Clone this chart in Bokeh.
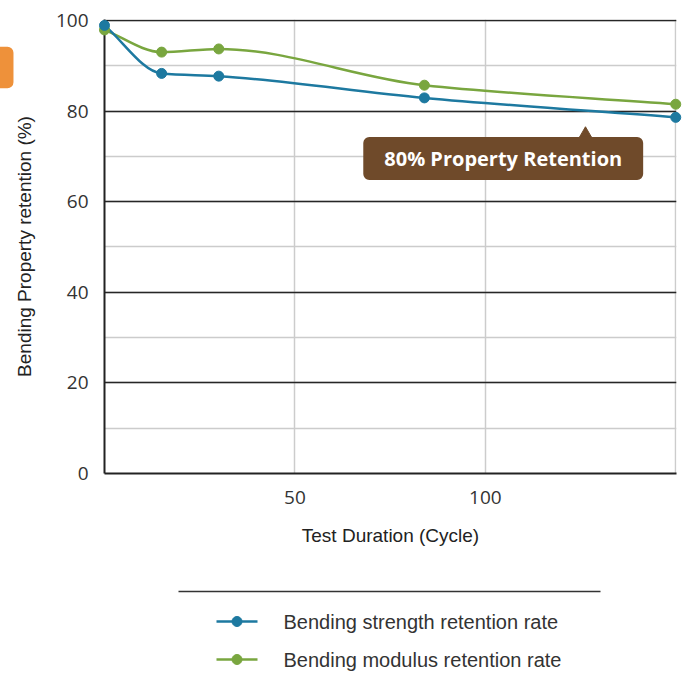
import numpy as np
from bokeh.plotting import figure
from bokeh.models import (Range1d, SingleIntervalTicker, FixedTicker, Label, ColumnDataSource)
from bokeh.layouts import column
from bokeh.embed import file_html
from bokeh.resources import INLINE
from bokeh.core.properties import value

# ---------------- data ----------------
cycles = [0, 15, 30, 84, 150]
strength = [98.9, 88.3, 87.7, 82.9, 78.6]
modulus = [97.9, 93.0, 93.7, 85.7, 81.5]
series_names = ["Bending strength retention rate", "Bending modulus retention rate"]
series_colors = ["#1d79a0", "#79a63f"]
x_tick_labels = [50, 100]
x_grid_ticks = [50, 100, 150]
y_interval = 20
annotation_text = "80% Property Retention"
annotation_pos = (104.7, 69.5)
pointer_pos = (126.3, 75.0)
tab_box = dict(left=-30.0, right=-23.9, top=94.2, bottom=85.0)

BROWN = "#6f4a2a"
ORANGE = "#ee913a"


def monotone_bezier(xs, ys):
    x = np.asarray(xs, float)
    y = np.asarray(ys, float)
    h = np.diff(x)
    d = np.diff(y) / h
    n = len(x)
    m = np.zeros(n)
    m[0] = d[0]
    m[-1] = d[-1]
    for k in range(1, n - 1):
        if d[k - 1] * d[k] <= 0:
            m[k] = 0.0
        else:
            w1 = 2 * h[k] + h[k - 1]
            w2 = h[k] + 2 * h[k - 1]
            m[k] = (w1 + w2) / (w1 / d[k - 1] + w2 / d[k])
    return dict(x0=x[:-1], y0=y[:-1], x1=x[1:], y1=y[1:],
                cx0=x[:-1] + h / 3, cy0=y[:-1] + m[:-1] * h / 3,
                cx1=x[1:] - h / 3, cy1=y[1:] - m[1:] * h / 3)


# ---------------- main chart ----------------
p = figure(width=688, height=575, x_range=Range1d(0, 150.2), y_range=Range1d(0, 100.2),
           output_backend="svg", toolbar_location=None,
           min_border_left=104, min_border_right=12, min_border_top=19, min_border_bottom=102)
p.outline_line_color = None

p.xaxis.ticker = FixedTicker(ticks=x_tick_labels)
p.yaxis.ticker = SingleIntervalTicker(interval=y_interval, num_minor_ticks=2)

p.ygrid.ticker = SingleIntervalTicker(interval=y_interval, num_minor_ticks=2)
p.ygrid.grid_line_color = "#262626"
p.ygrid.grid_line_width = 1.5
p.ygrid.minor_grid_line_color = "#cccccc"
p.ygrid.minor_grid_line_width = 1.5
p.xgrid.ticker = FixedTicker(ticks=x_grid_ticks)
p.xgrid.grid_line_color = "#cccccc"
p.xgrid.grid_line_width = 1.5

for ax in (p.xaxis[0], p.yaxis[0]):
    ax.axis_line_color = "#222222"
    ax.axis_line_width = 2
    ax.major_tick_out = 0
    ax.major_tick_in = 0
    ax.minor_tick_out = 0
    ax.minor_tick_in = 0
    ax.major_label_text_font = "Open Sans"
    ax.major_label_text_font_size = "19px"
    ax.major_label_text_color = "#333333"
    ax.axis_label_text_font = "Liberation Sans"
    ax.axis_label_text_font_size = "19px"
    ax.axis_label_text_font_style = "normal"
    ax.axis_label_text_color = "#222222"

p.xaxis.axis_label = "Test Duration (Cycle)"
p.yaxis.axis_label = "Bending Property retention (%)"
p.xaxis.major_label_standoff = 17
p.yaxis.major_label_standoff = 16
p.xaxis.axis_label_standoff = 18
p.yaxis.axis_label_standoff = 18

# orange tab at the left edge (outside the plot frame)
p.quad(left=[tab_box["left"]], right=[tab_box["right"]], top=[tab_box["top"]],
       bottom=[tab_box["bottom"]], fill_color=ORANGE, line_color=None,
       border_radius=6, level="overlay")

for ys, color in [(modulus, series_colors[1]), (strength, series_colors[0])]:
    src = ColumnDataSource(monotone_bezier(cycles, ys))
    p.bezier(x0="x0", y0="y0", x1="x1", y1="y1", cx0="cx0", cy0="cy0", cx1="cx1", cy1="cy1",
             line_color=color, line_width=2.5, source=src)
    p.scatter(cycles, ys, size=10, color=color, level="overlay")

# callout
p.scatter([pointer_pos[0]], [pointer_pos[1]], marker="triangle", size=12, color=BROWN)
p.add_layout(Label(x=annotation_pos[0], y=annotation_pos[1], text=annotation_text,
                   text_align="center", text_baseline="middle",
                   text_font="Open Sans", text_font_style="bold", text_font_size="20px",
                   text_color="white", background_fill_color=BROWN, background_fill_alpha=1,
                   padding=(21, 8), border_radius=6))

# ---------------- legend (x and y in page pixels) ----------------
lg = figure(width=688, height=108, x_range=Range1d(104, 676), y_range=Range1d(0, 108),
            output_backend="svg", toolbar_location=None,
            min_border_left=104, min_border_right=12, min_border_top=0, min_border_bottom=0,
            x_axis_type=None, y_axis_type=None)
lg.outline_line_color = None
lg.grid.visible = False
lg.segment(x0=[178], y0=[92], x1=[600], y1=[92], line_color="#333333", line_width=1.5,
           level="overlay")

row_y = [62 - 38 * i for i in range(len(series_names))]
lg.segment(x0=[216] * len(row_y), y0=row_y, x1=[257] * len(row_y), y1=row_y,
           line_color=series_colors, line_width=2.5)
lg.scatter([236.5] * len(row_y), row_y, size=10, color=series_colors)
lg.text([283] * len(row_y), row_y, text=series_names, text_baseline="middle",
        text_font=value("Liberation Sans"), text_font_size="20px", text_color="#333333",
        level="overlay")

layout = column(p, lg, spacing=0)
open("out.html", "w").write(file_html(layout, INLINE))
